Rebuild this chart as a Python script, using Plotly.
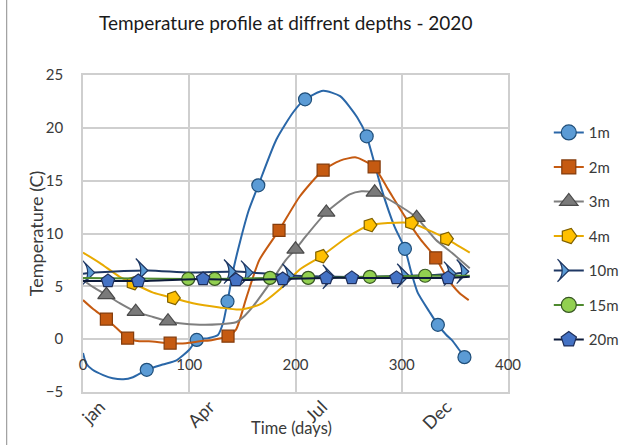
import plotly.graph_objects as go

# ---------------- data ----------------
series_names = ["1m", "2m", "3m", "4m", "10m", "15m", "20m"]

x_ticks = [0, 100, 200, 300, 400]
y_ticks = [-5, 0, 5, 10, 15, 20, 25]
month_labels = ["jan", "Apr", "Jul", "Dec"]
month_days = [16, 119, 225, 342]

# 1m
d1_x = [0, 3, 9, 19, 28, 38, 47, 60, 75, 88, 100, 107, 118, 127, 132, 136, 142, 148, 156, 165,
        182, 198, 209, 226, 242, 258, 267, 281, 293, 303, 309, 315, 326, 334, 342, 347, 354, 359]
d1_y = [-1.3, -2.3, -2.9, -3.4, -3.7, -3.8, -3.6, -2.9, -2.4, -2.0, -1.0, -0.07, 0.1, 0.4, 1.6, 3.57, 6.8, 9.3, 12.2, 14.56,
        18.9, 21.5, 22.7, 23.5, 23.0, 21.0, 19.2, 14.2, 10.7, 8.55, 6.3, 4.4, 2.6, 1.36, 0.4, -0.07, -1.0, -1.7]
m1_x = [60, 107, 136, 165, 209, 267, 303, 334, 359]
m1_y = [-2.9, -0.07, 3.57, 14.56, 22.7, 19.2, 8.55, 1.36, -1.7]

# 2m
d2_x = [0, 9, 22, 31, 42, 53, 62, 82, 97, 110, 122, 136.5, 144, 154, 166, 184.5, 204, 226, 242,
        257, 274, 287, 303, 318, 332, 342, 354, 363]
d2_y = [3.7, 2.9, 1.9, 1.1, 0.1, -0.2, -0.2, -0.38, -0.38, -0.2, -0.07, 0.28, 0.9, 4.0, 7.5, 10.3, 13.5, 16.0, 16.9,
        17.2, 16.3, 14.2, 11.6, 9.4, 7.7, 5.9, 4.4, 3.7]
m2_x = [22, 42, 82, 136.5, 184.5, 226, 274, 332]
m2_y = [1.9, 0.1, -0.38, 0.28, 10.3, 16.0, 16.3, 7.7]

# 3m
d3_x = [0, 10, 22, 34.5, 49.6, 66, 80, 91, 110, 128, 144, 152, 160, 176, 191, 200, 207, 229, 251, 262,
        274.5, 290, 314, 332, 348, 364]
d3_y = [5.6, 4.9, 4.2, 3.4, 2.6, 2.1, 1.7, 1.5, 1.36, 1.4, 1.6, 2.2, 3.1, 5.3, 7.5, 8.5, 9.4, 12.0, 13.7, 14.0,
        13.9, 13.1, 11.5, 9.4, 8.1, 6.7]
m3_x = [22, 49.6, 80, 200, 229, 274.5, 314]
m3_y = [4.2, 2.6, 1.7, 8.5, 12.0, 13.9, 11.5]

# 4m
d4_x = [0, 16, 34.5, 47, 66, 85, 103.5, 128.7, 147.5, 166, 185, 204, 224.4, 248, 270, 287, 309, 328, 342, 364]
d4_y = [8.2, 7.2, 5.9, 5.3, 4.4, 3.9, 3.4, 3.0, 2.8, 3.26, 4.7, 6.6, 7.85, 9.6, 10.8, 11.0, 11.0, 10.2, 9.5, 8.2]
m4_x = [47, 85, 224.4, 270, 309, 342]
m4_y = [5.3, 3.9, 7.85, 10.8, 11.0, 9.5]

# 10m
d10_x = [0, 11, 61, 100, 144, 160, 199, 237, 270, 307, 351, 363]
d10_y = [6.2, 6.3, 6.5, 6.3, 6.4, 6.3, 6.0, 5.9, 5.9, 6.0, 6.2, 6.4]
m10_x = [11, 61, 144, 160, 199, 237, 307, 351, 363]
m10_y = [6.3, 6.5, 6.4, 6.3, 6.0, 5.9, 6.0, 6.2, 6.4]

# 15m
d15_x = [0, 99, 124, 176, 212, 270, 322, 364]
d15_y = [5.8, 5.7, 5.7, 5.8, 5.8, 5.9, 6.0, 6.0]
m15_x = [99, 124, 176, 212, 270, 322]
m15_y = [5.7, 5.7, 5.8, 5.8, 5.9, 6.0]

# 20m
d20_x = [0, 23.5, 52, 113, 144, 188, 229, 253, 295, 343.5, 364]
d20_y = [5.5, 5.5, 5.5, 5.7, 5.6, 5.7, 5.8, 5.8, 5.8, 5.8, 5.9]
m20_x = [23.5, 52, 113, 144, 188, 229, 253, 295, 343.5]
m20_y = [5.5, 5.5, 5.7, 5.6, 5.7, 5.8, 5.8, 5.8, 5.8]

lines_x = [d1_x, d2_x, d3_x, d4_x, d10_x, d15_x, d20_x]
lines_y = [d1_y, d2_y, d3_y, d4_y, d10_y, d15_y, d20_y]
marks_x = [m1_x, m2_x, m3_x, m4_x, m10_x, m15_x, m20_x]
marks_y = [m1_y, m2_y, m3_y, m4_y, m10_y, m15_y, m20_y]

# ---------------- styles ----------------
styles = [
    dict(line="#2A67A8", fill="#5B9BD5", edge="#1F4E79", symbol="circle", angle=0, size=13),
    dict(line="#C55A11", fill="#C55A11", edge="#843C0C", symbol="square", angle=0, size=12),
    dict(line="#7F7F7F", fill="#7A7A7A", edge="#4A4A4A", symbol="triangle-up", angle=0, size=15),
    dict(line="#E8AA00", fill="#FFC000", edge="#7F6000", symbol="pentagon", angle=90, size=14),
    dict(line="#1F3864", fill="#5B9BD5", edge="#1F3864", symbol="arrow-wide", angle=90, size=17),
    dict(line="#4E8A2E", fill="#92D050", edge="#375623", symbol="circle", angle=0, size=13),
    dict(line="#0C1A3A", fill="#4472C4", edge="#1F2F5A", symbol="pentagon", angle=0, size=14),
]

FONT = "Lato"
GRID = "#CFCFCF"
TXT = "#3A3A3A"

fig = go.Figure()
for name, lx, ly, mx, my, st in zip(series_names, lines_x, lines_y, marks_x, marks_y, styles):
    fig.add_trace(go.Scatter(
        x=lx, y=ly, mode="lines", legendgroup=name, showlegend=False,
        line=dict(color=st["line"], width=2, shape="spline", smoothing=0.6),
        hoverinfo="skip"))
    fig.add_trace(go.Scatter(
        x=mx, y=my, mode="markers", legendgroup=name, showlegend=False, name=name,
        marker=dict(symbol=st["symbol"], angle=st["angle"], size=st["size"], color=st["fill"],
                    line=dict(color=st["edge"], width=1.2))))
    fig.add_trace(go.Scatter(
        x=[None], y=[None], mode="lines+markers", legendgroup=name, name=name,
        line=dict(color=st["line"], width=2),
        marker=dict(symbol=st["symbol"], angle=st["angle"], size=st["size"] + 2, color=st["fill"],
                    line=dict(color=st["edge"], width=1.2))))

fig.update_layout(
    width=623, height=445,
    margin=dict(l=83, r=115, t=75, b=53, autoexpand=False),
    paper_bgcolor="white", plot_bgcolor="white",
    font=dict(family=FONT, size=15, color=TXT),
    title=dict(text="Temperature profile at diffrent depths - 2020", x=0.477, xref="paper",
               xanchor="center", y=1 - 23 / 445, yref="container", yanchor="middle",
               font=dict(family=FONT, size=19, color="#1A1A1A")),
    xaxis=dict(range=[0, 400], tickvals=x_ticks, showticklabels=False, showgrid=True,
               gridcolor=GRID, gridwidth=1.5, zeroline=False, showline=True, linecolor=GRID,
               linewidth=1.5, mirror=True, ticks=""),
    xaxis2=dict(overlaying="x", anchor="free", position=5 / 30, range=[0, 400], tickvals=x_ticks,
                showgrid=False, zeroline=False, showline=False, ticks="outside", ticklen=12,
                tickcolor="rgba(0,0,0,0)", tickfont=dict(size=15, color=TXT)),
    xaxis3=dict(overlaying="x", anchor="y", side="bottom", range=[0, 400], tickvals=month_days,
                ticktext=month_labels, tickangle=-45, showgrid=False, zeroline=False,
                showline=False, ticks="", tickfont=dict(size=18, color=TXT)),
    yaxis=dict(range=[-5, 25], tickvals=y_ticks, showgrid=True, gridcolor=GRID, gridwidth=1.5,
               zeroline=False, showline=True, linecolor=GRID, linewidth=1.5, mirror=True,
               ticks="outside", ticklen=15, tickcolor="rgba(0,0,0,0)",
               tickfont=dict(size=15, color=TXT)),
    legend=dict(x=1.096, xanchor="left", y=0.87, yanchor="top", tracegroupgap=12,
                font=dict(size=15, color=TXT), bgcolor="rgba(0,0,0,0)"),
    annotations=[
        dict(text="Time (days)", xref="paper", yref="paper", x=0.49, y=(392 - 428) / 316.7,
             xanchor="center", yanchor="middle", showarrow=False, font=dict(size=16.5, color=TXT)),
        dict(text="Temperature (C)", xref="paper", yref="paper", x=(36 - 83.3) / 425, y=0.5,
             xanchor="center", yanchor="middle", textangle=-90, showarrow=False,
             font=dict(size=18, color=TXT)),
    ],
    shapes=[dict(type="line", xref="paper", yref="paper", x0=-0.1795, x1=-0.1795,
                 y0=-53 / 316.7, y1=392 / 316.7, line=dict(color="#8C8C8C", width=1))],
)

# invisible anchor traces so the extra axes are drawn
fig.add_trace(go.Scatter(x=[None], y=[None], xaxis="x2", showlegend=False, hoverinfo="skip"))
fig.add_trace(go.Scatter(x=[None], y=[None], xaxis="x3", showlegend=False, hoverinfo="skip"))

fig.write_html("out.html")
